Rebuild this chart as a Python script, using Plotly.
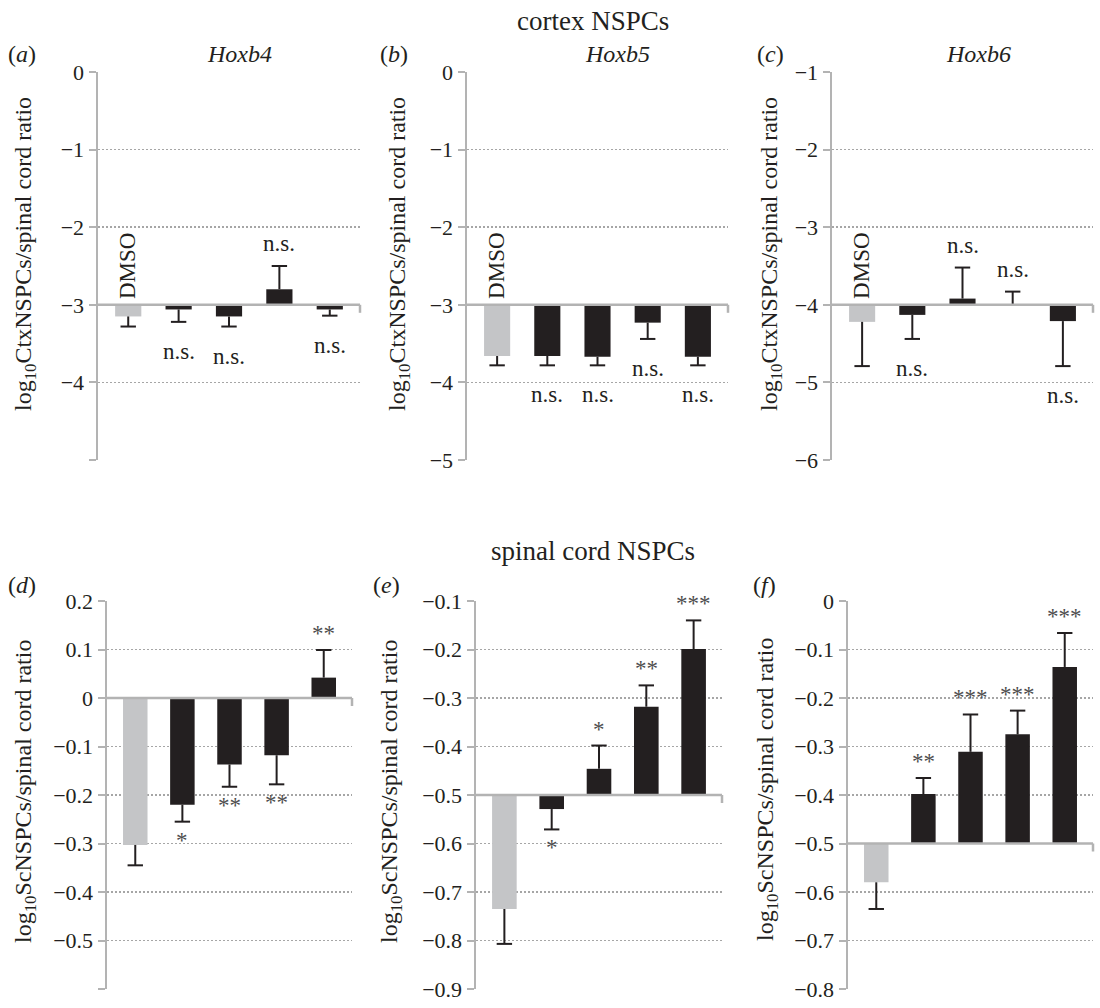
import plotly.graph_objects as go

# ---------------- data ----------------
categories = ["DMSO", "T1", "T2", "T3", "T4"]

# top row: cortex NSPCs
a_vals = [-3.15, -3.06, -3.15, -2.80, -3.06]
a_err = [0.13, 0.16, 0.13, 0.30, 0.08]
a_sig = ["", "n.s.", "n.s.", "n.s.", "n.s."]
a_base = -3
a_ticks = [0, -1, -2, -3, -4, -5]
a_ticktext = ["0", "−1", "−2", "−3", "−4", ""]

b_vals = [-3.66, -3.66, -3.67, -3.23, -3.67]
b_err = [0.12, 0.12, 0.11, 0.21, 0.11]
b_sig = ["", "n.s.", "n.s.", "n.s.", "n.s."]
b_base = -3
b_ticks = [0, -1, -2, -3, -4, -5]
b_ticktext = ["0", "−1", "−2", "−3", "−4", "−5"]

c_vals = [-4.22, -4.13, -3.92, -3.99, -4.21]
c_err = [0.57, 0.31, 0.40, 0.16, 0.58]
c_sig = ["", "n.s.", "n.s.", "n.s.", "n.s."]
c_base = -4
c_ticks = [-1, -2, -3, -4, -5, -6]
c_ticktext = ["−1", "−2", "−3", "−4", "−5", "−6"]

# bottom row: spinal cord NSPCs
d_vals = [-0.303, -0.220, -0.137, -0.118, 0.042]
d_err = [0.042, 0.035, 0.046, 0.060, 0.057]
d_sig = ["", "*", "**", "**", "**"]
d_base = 0
d_ticks = [0.2, 0.1, 0, -0.1, -0.2, -0.3, -0.4, -0.5, -0.6]
d_ticktext = ["0.2", "0.1", "0", "−0.1", "−0.2", "−0.3", "−0.4", "−0.5", ""]

e_vals = [-0.735, -0.529, -0.446, -0.318, -0.199]
e_err = [0.072, 0.042, 0.048, 0.044, 0.059]
e_sig = ["", "*", "*", "**", "***"]
e_base = -0.5
e_ticks = [-0.1, -0.2, -0.3, -0.4, -0.5, -0.6, -0.7, -0.8, -0.9]
e_ticktext = ["−0.1", "−0.2", "−0.3", "−0.4", "−0.5", "−0.6", "−0.7", "−0.8", "−0.9"]

f_vals = [-0.580, -0.398, -0.311, -0.275, -0.136]
f_err = [0.055, 0.033, 0.077, 0.049, 0.070]
f_sig = ["", "**", "***", "***", "***"]
f_base = -0.5
f_ticks = [0, -0.1, -0.2, -0.3, -0.4, -0.5, -0.6, -0.7, -0.8]
f_ticktext = ["0", "−0.1", "−0.2", "−0.3", "−0.4", "−0.5", "−0.6", "−0.7", "−0.8"]

panel_letters = ["a", "b", "c", "d", "e", "f"]
gene_titles = ["Hoxb4", "Hoxb5", "Hoxb6"]
row_titles = ["cortex NSPCs", "spinal cord NSPCs"]
ytitle_top = "log<sub>10</sub>CtxNSPCs/spinal cord ratio"
ytitle_bot = "log<sub>10</sub>ScNSPCs/spinal cord ratio"

# ---------------- style / layout ----------------
W, H = 1100, 1008
FONT = "Liberation Serif, Times New Roman, serif"
TXT = "#231f20"
GRAY_BAR = "#c4c5c7"
DARK_BAR = "#231f20"
AXIS = "#b3b3b3"
FS_TICK = 22
FS_LAB = 23
FS_YT = 24
FS_TITLE = 27

panels = [
    dict(vals=a_vals, err=a_err, sig=a_sig, base=a_base, ticks=a_ticks, tt=a_ticktext,
         dom_x=(98, 360), dom_y=(72, 460), ytitle=ytitle_top, ytx=25, yty=254,
         lab_x=22, lab_y=54, gene=gene_titles[0], gene_x=239),
    dict(vals=b_vals, err=b_err, sig=b_sig, base=b_base, ticks=b_ticks, tt=b_ticktext,
         dom_x=(467, 728), dom_y=(72, 460), ytitle=ytitle_top, ytx=399, yty=254,
         lab_x=394, lab_y=54, gene=gene_titles[1], gene_x=617),
    dict(vals=c_vals, err=c_err, sig=c_sig, base=c_base, ticks=c_ticks, tt=c_ticktext,
         dom_x=(832, 1093), dom_y=(72, 460), ytitle=ytitle_top, ytx=771, yty=254,
         lab_x=770, lab_y=54, gene=gene_titles[2], gene_x=978),
    dict(vals=d_vals, err=d_err, sig=d_sig, base=d_base, ticks=d_ticks, tt=d_ticktext,
         dom_x=(107, 352), dom_y=(601, 989), ytitle=ytitle_bot, ytx=25, yty=792,
         lab_x=22, lab_y=585, gene=None, gene_x=None),
    dict(vals=e_vals, err=e_err, sig=e_sig, base=e_base, ticks=e_ticks, tt=e_ticktext,
         dom_x=(476, 722), dom_y=(601, 989), ytitle=ytitle_bot, ytx=391, yty=792,
         lab_x=386, lab_y=585, gene=None, gene_x=None),
    dict(vals=f_vals, err=f_err, sig=f_sig, base=f_base, ticks=f_ticks, tt=f_ticktext,
         dom_x=(848, 1093), dom_y=(601, 989), ytitle=ytitle_bot, ytx=767, yty=790,
         lab_x=764, lab_y=585, gene=None, gene_x=None),
]

fig = go.Figure()
annotations = []
shapes = []

for i, p in enumerate(panels):
    n = i + 1
    xa = "x" if n == 1 else f"x{n}"
    ya = "y" if n == 1 else f"y{n}"
    xkey = "xaxis" if n == 1 else f"xaxis{n}"
    ykey = "yaxis" if n == 1 else f"yaxis{n}"
    base = p["base"]
    rel = [v - base for v in p["vals"]]
    colors = [GRAY_BAR if c == "DMSO" else DARK_BAR for c in categories]
    fig.add_trace(go.Bar(
        x=categories, y=rel, base=base, xaxis=xa, yaxis=ya,
        marker=dict(color=colors, line=dict(width=0)), width=0.52,
        showlegend=False, hoverinfo="skip",
    ))
    # one-sided error bars: stem from bar end away from the base, plus a cap
    sx, sy, cy = [], [], []
    for c, v, e in zip(categories, p["vals"], p["err"]):
        end = v + e if v > base else v - e
        sx += [c, c, None]
        sy += [v, end, None]
        cy.append(end)
    fig.add_trace(go.Scatter(
        x=sx, y=sy, xaxis=xa, yaxis=ya, mode="lines",
        line=dict(color=TXT, width=2), showlegend=False, hoverinfo="skip",
    ))
    fig.add_trace(go.Scatter(
        x=categories, y=cy, xaxis=xa, yaxis=ya, mode="markers",
        marker=dict(symbol="line-ew", size=11, line=dict(color=TXT, width=2)),
        showlegend=False, hoverinfo="skip",
    ))
    ticks = p["ticks"]
    fig.update_layout({
        xkey: dict(domain=[p["dom_x"][0] / W, p["dom_x"][1] / W], anchor=ya,
                   type="category", range=[-0.6, 4.6], showticklabels=False, automargin=False,
                   showgrid=False, zeroline=False, showline=False, ticks="", fixedrange=True),
        ykey: dict(domain=[1 - p["dom_y"][1] / H, 1 - p["dom_y"][0] / H], anchor=xa,
                   range=[min(ticks), max(ticks)], tickmode="array", tickvals=ticks,
                   ticktext=p["tt"], showgrid=True, gridcolor="#a6a6a6", griddash="2px,2px",
                   gridwidth=1.5, zeroline=False, showline=True, linecolor=AXIS, linewidth=2.5,
                   ticks="outside", ticklen=7, tickwidth=2, tickcolor=AXIS, automargin=False,
                   tickfont=dict(family=FONT, size=FS_TICK, color=TXT), fixedrange=True),
    })
    # category axis line at the base value, with its end tick
    shapes.append(dict(type="line", xref=f"{xa} domain", yref=ya, x0=0, x1=1, y0=base, y1=base,
                       line=dict(color=AXIS, width=2.5), layer="above"))
    shapes.append(dict(type="line", xref=f"{xa} domain", yref=ya, x0=1, x1=1,
                       ysizemode="pixel", yanchor=base, y0=0, y1=-8,
                       line=dict(color=AXIS, width=2.5)))
    # significance labels
    for c, v, e, s in zip(categories, p["vals"], p["err"], p["sig"]):
        if not s:
            continue
        is_up = v > base
        yend = v + e if is_up else v - e
        star = "*" in s
        annotations.append(dict(
            x=c, y=yend, xref=xa, yref=ya, text=s, showarrow=False,
            yanchor="bottom" if is_up else "top",
            yshift=(2 if star else 8) if is_up else (-4 if star else -15),
            font=dict(family=FONT, size=FS_LAB, color="#4d4d4d" if star else TXT),
        ))
    # DMSO label on top row
    if i < 3:
        annotations.append(dict(
            x=categories[0], y=base, xref=xa, yref=ya, text="DMSO", textangle=-90,
            showarrow=False, yanchor="bottom", yshift=4,
            font=dict(family=FONT, size=FS_LAB, color=TXT),
        ))
    # y-axis title
    annotations.append(dict(
        x=p["ytx"] / W, y=1 - p["yty"] / H, xref="paper", yref="paper", text=p["ytitle"],
        textangle=-90, showarrow=False, xanchor="center", yanchor="middle",
        font=dict(family=FONT, size=FS_YT, color=TXT),
    ))
    # panel letter
    annotations.append(dict(
        x=p["lab_x"] / W, y=1 - p["lab_y"] / H, xref="paper", yref="paper",
        text=f"(<i>{panel_letters[i]}</i>)", showarrow=False, xanchor="center", yanchor="middle",
        font=dict(family=FONT, size=24, color=TXT),
    ))
    if p["gene"]:
        annotations.append(dict(
            x=p["gene_x"] / W, y=1 - p["lab_y"] / H, xref="paper", yref="paper",
            text=f"<i>{p['gene']}</i>", showarrow=False, xanchor="center", yanchor="middle",
            font=dict(family=FONT, size=24, color=TXT),
        ))

for t, yy in zip(row_titles, [21, 551]):
    annotations.append(dict(
        x=593 / W, y=1 - yy / H, xref="paper", yref="paper", text=t, showarrow=False,
        xanchor="center", yanchor="middle", font=dict(family=FONT, size=FS_TITLE, color=TXT),
    ))

fig.update_layout(
    template="none",
    width=W, height=H, margin=dict(l=0, r=0, t=0, b=0, pad=0), autosize=False,
    paper_bgcolor="white", plot_bgcolor="white",
    annotations=annotations, shapes=shapes,
    font=dict(family=FONT, color=TXT), showlegend=False,
)

fig.write_html("out.html", config={"displayModeBar": False, "staticPlot": True},
               post_script="document.body.style.margin='0';")
